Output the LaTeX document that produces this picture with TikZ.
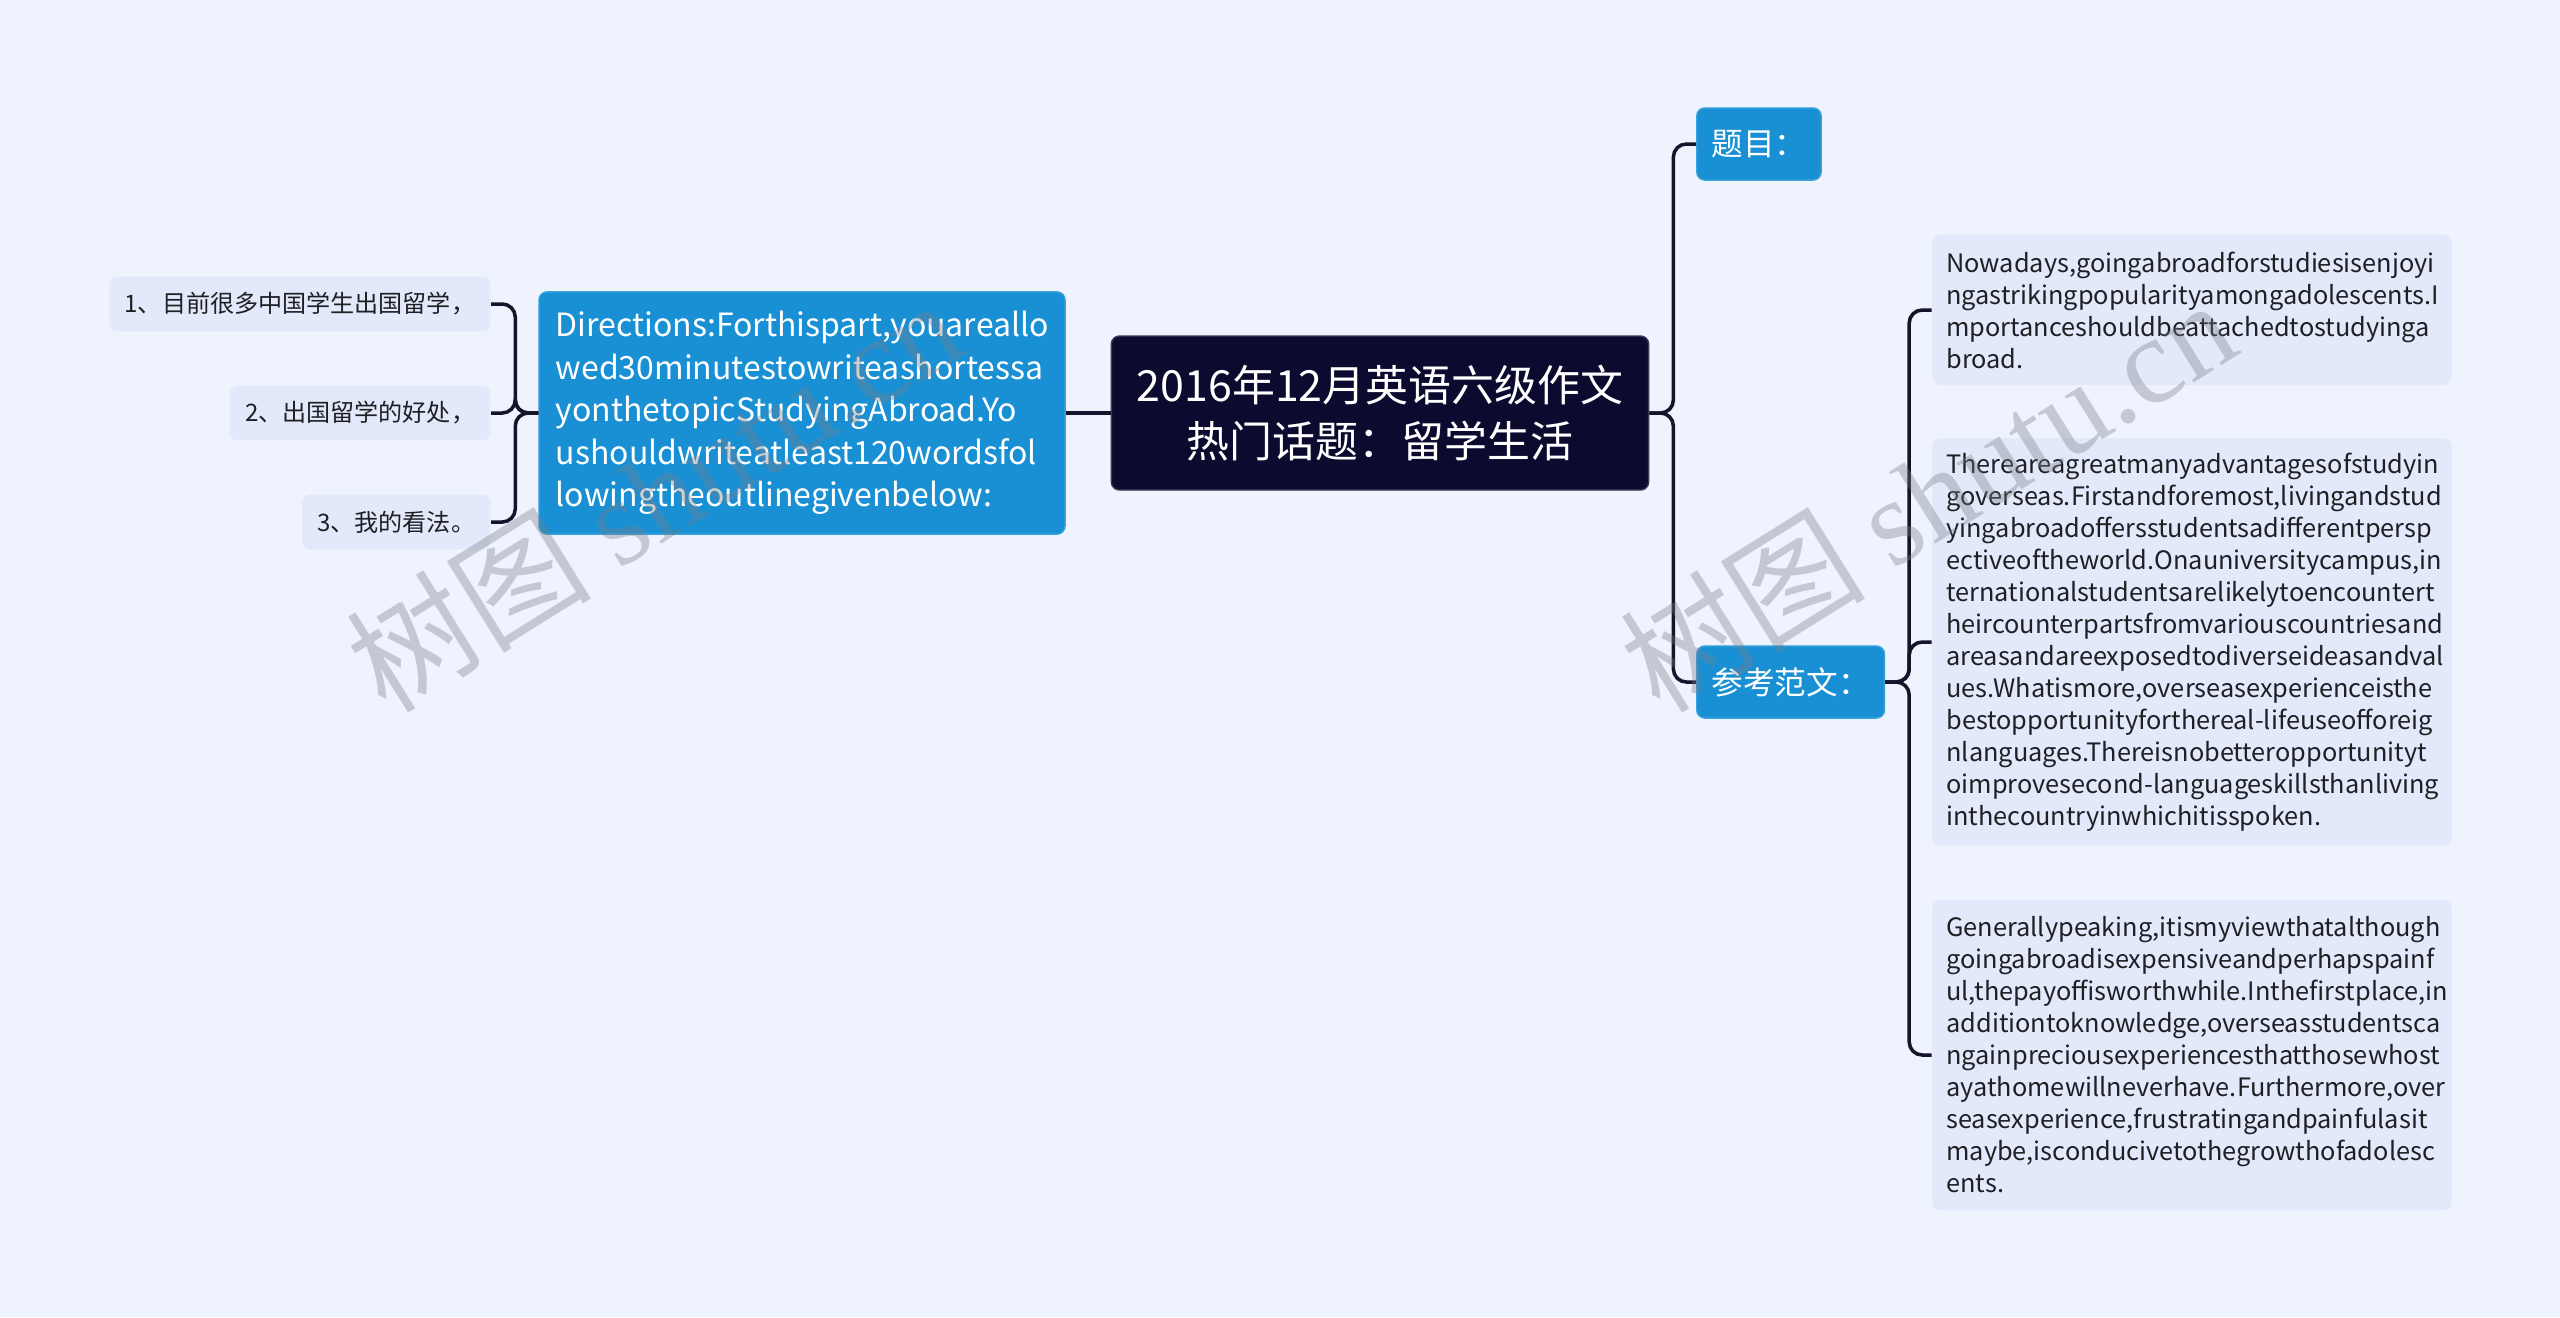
\documentclass[tikz,border=0pt]{standalone}
\usepackage{fontspec}
\setmainfont{Noto Sans CJK SC}
\newfontfamily\wmlatin{Liberation Serif}
\hyphenpenalty=10000
\exhyphenpenalty=10000

\definecolor{bgcol}{HTML}{EEF3FD}
\definecolor{rootcol}{HTML}{0C0A2E}
\definecolor{bluecol}{HTML}{1A90D4}
\definecolor{blueedge}{HTML}{3AA2DF}
\definecolor{leafcol}{HTML}{E1E9FA}
\definecolor{inkcol}{HTML}{1F1F24}
\definecolor{linkcol}{HTML}{14142A}
\definecolor{wmcol}{HTML}{787D87}

\tikzset{
  link/.style={draw=linkcol, line width=1pt, rounded corners=3.7pt},
  rootbox/.style={fill=rootcol, draw=rootcol!80!white, line width=0.4pt, rounded corners=2.3pt,
    text=white, align=center, minimum width=152.8pt, minimum height=43.8pt,
    font=\fontsize{12.2pt}{15.8pt}\selectfont},
  dirbox/.style={fill=bluecol, draw=blueedge, line width=0.4pt, rounded corners=2.3pt,
    text=white, align=left, text width=140pt, inner xsep=4.8pt, minimum height=68.9pt,
    font=\fontsize{9.1pt}{12.1pt}\selectfont},
  topicbox/.style={fill=bluecol, draw=blueedge, line width=0.4pt, rounded corners=2.3pt,
    text=white, inner xsep=4.2pt, minimum height=20.5pt,
    font=\fontsize{9pt}{11pt}\selectfont},
  itembox/.style={fill=leafcol, rounded corners=2.3pt, text=inkcol, inner xsep=4.3pt,
    minimum height=15.6pt, font=\fontsize{6.85pt}{9pt}\selectfont},
  textbox/.style={fill=leafcol, rounded corners=2.3pt, text=inkcol, align=left,
    text width=139.7pt, inner xsep=4pt, font=\fontsize{7.2pt}{9.1pt}\selectfont},
  wmark/.style={text=wmcol, opacity=0.36, rotate=32, font=\fontsize{35pt}{38pt}\selectfont}
}

\begin{document}
\begin{tikzpicture}[x=0.01cm,y=-0.01cm]

	\fill[bgcol] (0,0) rectangle (2560,1317);
	\useasboundingbox (0,0) rectangle (2560,1317);

	\node[rootbox] (root) at (1380,413) {2016年12月英语六级作文\\热门话题：留学生活};

	\node[dirbox] (dir) at (802,413) {Directions:Forthispart,youareallo\\
	wed30minutestowriteashortessa\\ yonthetopicStudyingAbroad.Yo\\
	ushouldwriteatleast120wordsfol\\ lowingtheoutlinegivenbelow:};

	\node[itembox, anchor=east] (it1) at (491,304) {1、目前很多中国学生出国留学，};
	\node[itembox, anchor=east] (it2) at (491,413) {2、出国留学的好处，};
	\node[itembox, anchor=east] (it3) at (491,522) {3、我的看法。};

	\node[topicbox, anchor=west] (title) at (1696,144) {题目：};
	\node[topicbox, anchor=west] (essay) at (1696,682) {参考范文：};

	\node[textbox, minimum height=42.7pt] (para1) at (2192,310)
	{Nowadays,goingabroadforstudiesisenjoyi\\ ngastrikingpopularityamongadolescents.I\\
	mportanceshouldbeattachedtostudyinga\\ broad.};
	\node[textbox, minimum height=115.8pt] (para2) at (2192,642)
	{Thereareagreatmanyadvantagesofstudyin\\ goverseas.Firstandforemost,livingandstud\\
	yingabroadoffersstudentsadifferentpersp\\ ectiveoftheworld.Onauniversitycampus,in\\
	ternationalstudentsarelikelytoencountert\\ heircounterpartsfromvariouscountriesand\\
	areasandareexposedtodiverseideasandval\\ ues.Whatismore,overseasexperienceisthe\\
	bestopportunityforthereal-lifeuseofforeig\\ nlanguages.Thereisnobetteropportunityt\\
	oimprovesecond-languageskillsthanliving\\ inthecountryinwhichitisspoken.};
	\node[textbox, minimum height=88.2pt] (para3) at (2192,1055)
	{Generallypeaking,itismyviewthatalthough\\ goingabroadisexpensiveandperhapspainf\\
	ul,thepayoffisworthwhile.Inthefirstplace,in\\ additiontoknowledge,overseasstudentsca\\
	ngainpreciousexperiencesthatthosewhost\\ ayathomewillneverhave.Furthermore,over\\
	seasexperience,frustratingandpainfulasit\\ maybe,isconducivetothegrowthofadolesc\\
	ents.};

	\draw[link] (root.west) -- (dir.east);
	\draw[link] (dir.west) -- ++(-23,0) |- (it1.east);
	\draw[link] (dir.west) -- ++(-23,0) |- (it2.east);
	\draw[link] (dir.west) -- ++(-23,0) |- (it3.east);

	\draw[link] (root.east) -- ++(24,0) |- (title.west);
	\draw[link] (root.east) -- ++(24,0) |- (essay.west);

	\draw[link] (essay.east) -- ++(24,0) |- (para1.west);
	\draw[link] (essay.east) -- ++(24,0) |- (para2.west);
	\draw[link] (essay.east) -- ++(24,0) |- (para3.west);

	\node[wmark] (wm1) at (653,494) {树图 {\wmlatin shutu.cn}};
	\node[wmark] (wm2) at (1927,494) {树图 {\wmlatin shutu.cn}};
\end{tikzpicture}
\end{document}
